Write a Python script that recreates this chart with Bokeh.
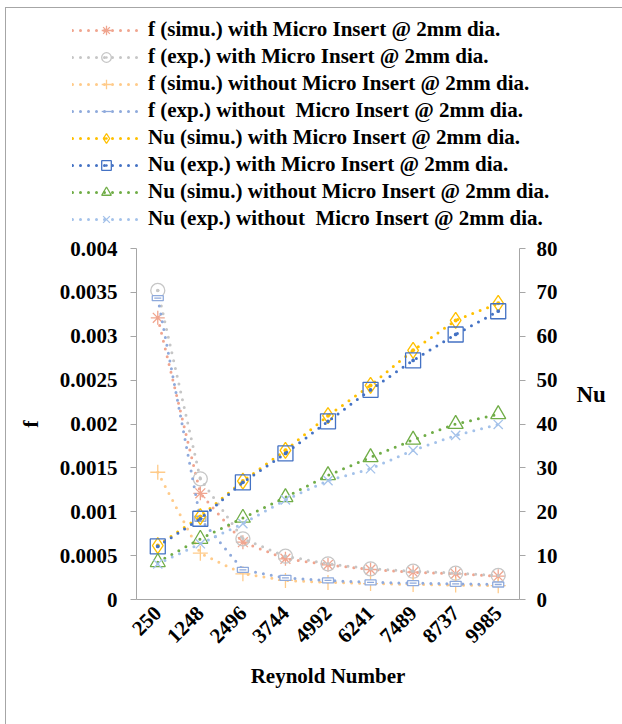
import math

from bokeh.plotting import figure
from bokeh.layouts import column, row
from bokeh.models import (FactorRange, Range1d, LinearAxis, FixedTicker,
                          NumeralTickFormatter, Legend, LegendItem)
from bokeh.embed import file_html
from bokeh.resources import INLINE

# Reynolds numbers (category axis)
reynolds = ["250", "1248", "2496", "3744", "4992", "6241", "7489", "8737", "9985"]

# friction factor, left axis
f_simu_insert = [0.00321, 0.00121, 0.000653, 0.000464, 0.000395, 0.000342, 0.000311, 0.000293, 0.000266]
f_exp_insert = [0.003522, 0.001375, 0.000691, 0.000494, 0.000407, 0.00035, 0.000323, 0.0003, 0.000274]
f_simu_plain = [0.00145, 0.000528, 0.000293, 0.000217, 0.000195, 0.000182, 0.000172, 0.000165, 0.000158]
f_exp_plain = [0.003434, 0.00092, 0.000338, 0.000247, 0.000217, 0.000195, 0.000186, 0.000179, 0.000171]

# Nusselt number, right axis
nu_simu_insert = [12.3, 18.9, 27.0, 34.0, 41.9, 48.8, 56.8, 63.6, 67.5]
nu_exp_insert = [12.1, 18.4, 26.7, 33.3, 40.6, 47.8, 54.5, 60.4, 65.7]
nu_simu_plain = [8.5, 13.8, 18.6, 23.3, 28.3, 32.4, 36.4, 40.0, 42.2]
nu_exp_plain = [8.1, 12.7, 17.3, 22.7, 27.1, 29.8, 34.0, 37.4, 39.9]

f_ticks = [0, 0.0005, 0.001, 0.0015, 0.002, 0.0025, 0.003, 0.0035, 0.004]
nu_ticks = [0, 10, 20, 30, 40, 50, 60, 70, 80]

labels = [
    "f (simu.) with Micro Insert @ 2mm dia.",
    "f (exp.) with Micro Insert @ 2mm dia.",
    "f (simu.) without Micro Insert @ 2mm dia.",
    "f (exp.) without  Micro Insert @ 2mm dia.",
    "Nu (simu.) with Micro Insert @ 2mm dia.",
    "Nu (exp.) with Micro Insert @ 2mm dia.",
    "Nu (simu.) without Micro Insert @ 2mm dia.",
    "Nu (exp.) without  Micro Insert @ 2mm dia.",
]

FONT = "'Liberation Serif', 'Times New Roman', serif"
AXIS_GRAY = "#A6A6A6"

DOT = dict(line_dash="0 8", line_cap="round", line_width=3)

series = [
    (f_simu_insert, "default", "#F0A58F", "asterisk", 14),
    (f_exp_insert, "default", "#C6C6C6", "circle_dot", 14),
    (f_simu_plain, "default", "#FFCB8A", "cross", 15),
    (f_exp_plain, "default", "#8FAADC", "dash", 7),
    (nu_simu_insert, "nu", "#FFC000", "diamond_dot", 16),
    (nu_exp_insert, "nu", "#4472C4", "square_dot", 15),
    (nu_simu_plain, "nu", "#70AD47", "triangle", 15),
    (nu_exp_plain, "nu", "#A4C2EA", "x", 13),
]

# ---- main chart ----
p = figure(
    x_range=FactorRange(factors=reynolds),
    y_range=Range1d(0, 0.004),
    frame_width=383, frame_height=351,
    min_border_left=136, min_border_right=103,
    min_border_top=12, min_border_bottom=125,
    output_backend="svg", toolbar_location=None,
    background_fill_color="white", border_fill_color=None,
)
p.outline_line_color = None
p.xgrid.visible = False
p.ygrid.visible = False
p.extra_y_ranges = {"nu": Range1d(0, 80)}

for vals, rng, color, marker, size in series:
    p.line(reynolds, vals, y_range_name=rng, line_color=color, **DOT)
    if marker == "dash":
        p.rect(reynolds, vals, width=11, height=5, width_units="screen",
               height_units="screen", y_range_name=rng, fill_color="white",
               line_color=color, line_width=1.3)
    p.scatter(reynolds, vals, y_range_name=rng, marker=marker, size=size,
              line_color=color, fill_color=None, line_width=1.3)


def style_axis(ax):
    ax.axis_line_color = AXIS_GRAY
    ax.major_tick_line_color = AXIS_GRAY
    ax.minor_tick_line_color = None
    ax.major_tick_in = 0
    ax.major_tick_out = 6
    ax.major_label_text_font = FONT
    ax.major_label_text_font_style = "bold"
    ax.major_label_text_font_size = "21px"
    ax.major_label_text_color = "black"
    ax.axis_label_text_font = FONT
    ax.axis_label_text_font_style = "bold"
    ax.axis_label_text_color = "black"


ya = p.yaxis[0]
style_axis(ya)
ya.ticker = FixedTicker(ticks=f_ticks)
ya.formatter = NumeralTickFormatter(format="0.[0000]")
ya.major_label_standoff = 13
ya.axis_label = "f"
ya.axis_label_text_font_size = "22px"
ya.axis_label_standoff = 14

nu_axis = LinearAxis(y_range_name="nu", ticker=FixedTicker(ticks=nu_ticks))
style_axis(nu_axis)
nu_axis.major_label_standoff = 11
# two trailing blank lines lift the title above the middle of the axis
nu_axis.axis_label = "Nu\n\n"
nu_axis.axis_label_text_font_size = "23px"
nu_axis.axis_label_standoff = 16
nu_axis.axis_label_orientation = "horizontal"
p.add_layout(nu_axis, "right")

xa = p.xaxis[0]
style_axis(xa)
xa.major_tick_line_color = None
xa.major_tick_out = 0
xa.major_label_orientation = math.pi / 4
xa.major_label_standoff = 10
xa.axis_label = "Reynold Number"
xa.axis_label_text_font_size = "21px"
xa.axis_label_standoff = 12

# ---- legend block above the chart ----
# the same series are drawn here against ranges that keep them out of view,
# so that only their legend entries show
lg = figure(
    width=622, height=236,
    x_range=FactorRange(factors=reynolds), y_range=Range1d(1, 2),
    min_border=0, output_backend="svg", toolbar_location=None,
    background_fill_color=None, border_fill_color=None,
)
lg.extra_y_ranges = {"nu": Range1d(100, 101)}
lg.outline_line_color = None
lg.axis.visible = False
lg.grid.visible = False

items = []
for (vals, rng, color, marker, size), label in zip(series, labels):
    ln = lg.line(reynolds, vals, y_range_name=rng, line_color=color, **DOT)
    sc = lg.scatter(reynolds, vals, y_range_name=rng, marker=marker, size=size,
                    line_color=color, fill_color=None, line_width=1.3)
    items.append(LegendItem(label=label, renderers=[ln, sc]))

legend = Legend(
    items=items, location=(72, 5),
    glyph_width=68, glyph_height=24, label_height=24, spacing=2,
    label_standoff=8, padding=0, margin=0,
    border_line_color=None, background_fill_alpha=0,
    label_text_font=FONT, label_text_font_style="bold",
    label_text_font_size="21px", label_text_color="black",
)
lg.add_layout(legend, "center")

page = column(row(lg), p, spacing=0)
# chart frame lines along the left and top edges
page.styles = {
    "background": (
        f"linear-gradient({AXIS_GRAY},{AXIS_GRAY}) 5px 7px / 1px 100% no-repeat, "
        f"linear-gradient({AXIS_GRAY},{AXIS_GRAY}) 5px 7px / 100% 1px no-repeat, white"
    )
}

open("out.html", "w").write(file_html(page, INLINE))
